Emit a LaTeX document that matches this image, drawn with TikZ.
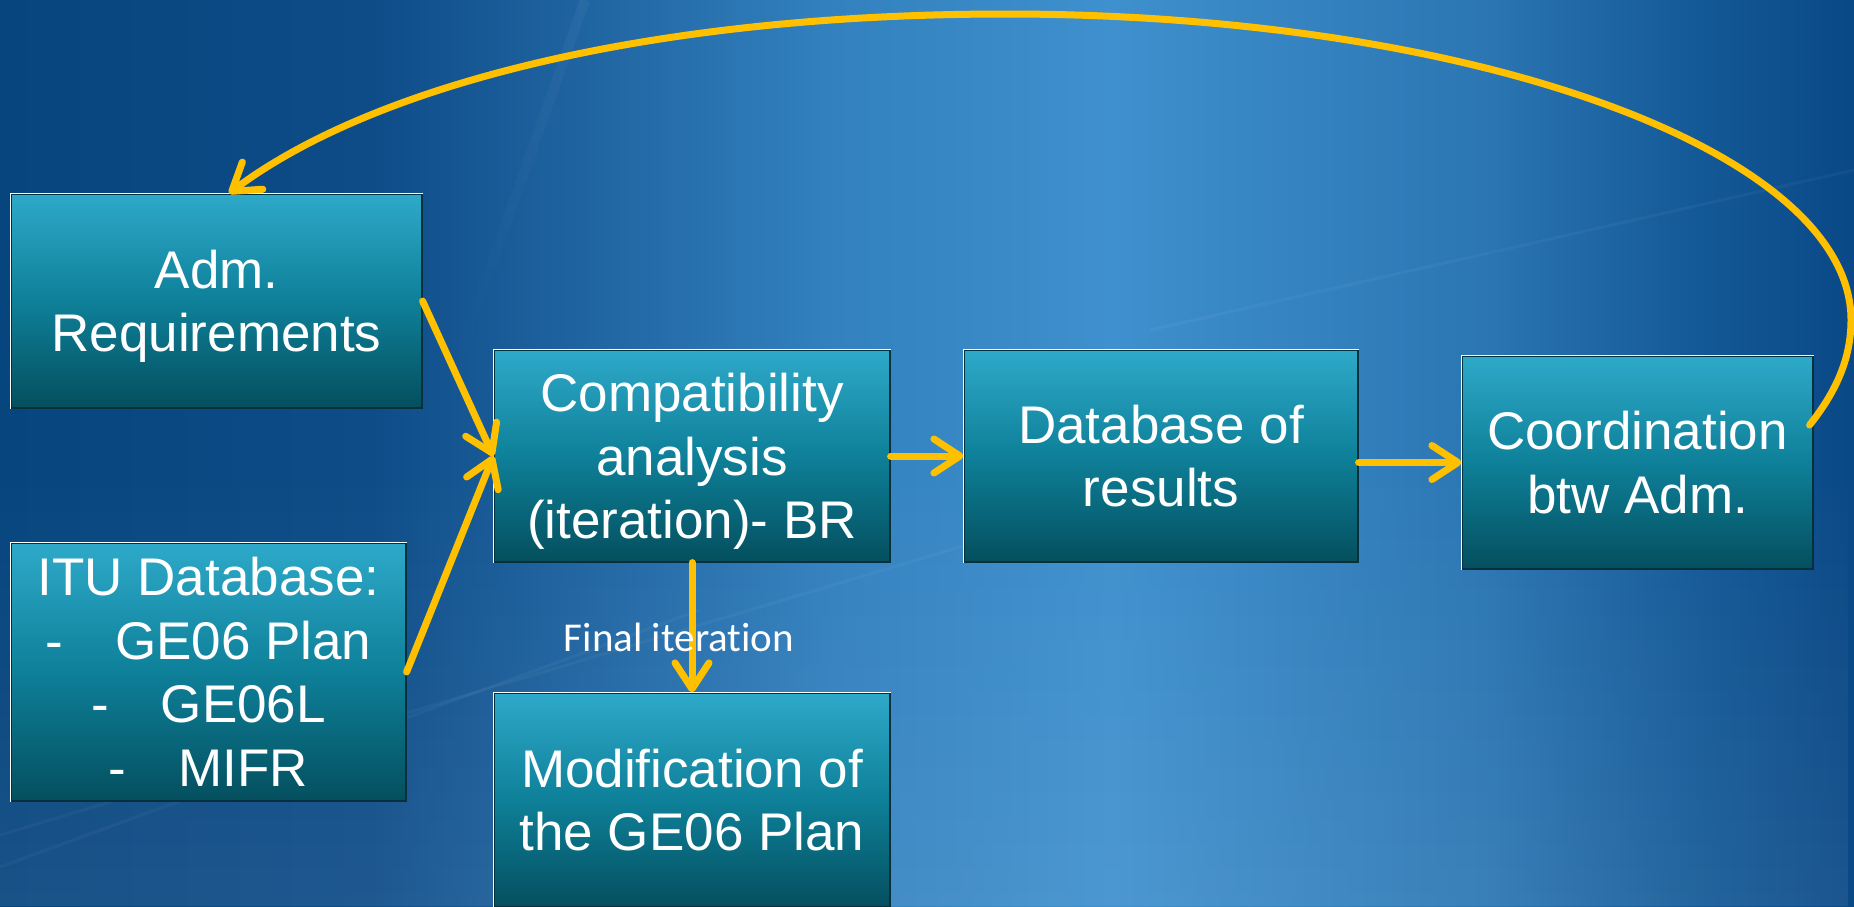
\documentclass[tikz,border=0pt]{standalone}
\usepackage{fontspec}
\setmainfont{Liberation Sans}
\newfontfamily\calib[Ligatures={NoCommon}]{Carlito}
\usetikzlibrary{arrows.meta,fadings}
\definecolor{bgA}{HTML}{07457E}
\definecolor{bgA2}{HTML}{0E4C88}
\definecolor{bgM}{HTML}{3381BF}
\definecolor{bgB}{HTML}{3F90CE}
\definecolor{bgR1}{HTML}{2B76B3}
\definecolor{bgR2}{HTML}{135896}
\definecolor{bgC}{HTML}{0A4886}
\definecolor{boxT}{HTML}{2EA9C9}
\definecolor{boxM}{HTML}{0E8099}
\definecolor{boxB}{HTML}{044F5E}
\definecolor{boxEdge}{HTML}{06313C}
\definecolor{arr}{HTML}{FFC000}
\pgfdeclarehorizontalshading{bgshade}{100bp}{color(0bp)=(bgA); color(25bp)=(bgA); color(35bp)=(bgA2); color(47.5bp)=(bgM); color(55bp)=(bgB); color(65bp)=(bgR1); color(71bp)=(bgR2); color(75bp)=(bgC); color(100bp)=(bgC)}
\tikzset{
  box/.style={draw=boxEdge, line width=1.2pt, top color=boxT, bottom color=boxB, middle color=boxM,
    text=white, font=\fontsize{53}{63.5}\selectfont, align=center, inner sep=0pt, text depth=0pt},
  arrowline/.style={draw=arr, line width=7pt, line cap=round,
    -{Straight Barb[round, length=26pt, width=34pt]}},
  hilite/.style={draw=white, line width=1.5pt},
  streak/.style={draw=white, opacity=0.04, line width=10pt}
}
\begin{document}
\begin{tikzpicture}[x=1pt,y=-1pt]
\useasboundingbox (0,0) rectangle (1854,906);
\shade[shading=bgshade] (0,0) rectangle (1854,906);
\fill[white, opacity=0.07, path fading=north] (0,450) rectangle (1854,906);
\draw[streak, path fading=south] (585,0) -- (440,410);
\draw[streak, line width=3pt] (0,835) -- (1000,535);
\draw[streak, line width=3pt] (0,867) -- (700,610);
\draw[streak, line width=3pt] (1150,330) -- (1854,170);

\node[box, minimum width=411pt, minimum height=214pt] (adm) at (216.5,301) {Adm.\\Requirements};
\node[box, minimum width=395pt, minimum height=258pt] (itu) at (208.5,672) {ITU Database:\\-\hspace{52pt}GE06 Plan\\-\hspace{52pt}GE06L\\-\hspace{52pt}MIFR};
\node[box, minimum width=396pt, minimum height=212pt] (comp) at (692,456) {Compatibility\\analysis\\(iteration)- BR};
\node[box, minimum width=394pt, minimum height=212pt] (db) at (1161,456) {Database of\\results};
\node[box, minimum width=351pt, minimum height=213pt] (coord) at (1637.5,462.5) {Coordination\\btw Adm.};
\node[box, minimum width=396pt, minimum height=214pt] (mod) at (692,800) {Modification of\\the GE06 Plan};

\foreach \n in {adm,itu,comp,db,coord,mod}{
  \draw[hilite] (\n.south west) -- (\n.north west) -- (\n.north east);
}

\draw[arrowline] (adm.east) -- (comp.west);
\draw[arrowline] (itu.east) -- (comp.west);
\draw[arrowline] (comp.east) -- (db.west);
\draw[arrowline] (db.east |- coord.west) -- (coord.west);
\draw[arrowline] (comp.south) -- (mod.north);

\node[text=white, font=\calib\fontsize{41}{48}\selectfont, inner sep=0pt] (lbl) at (679,637) {Final iteration};

\coordinate (r) at (1851,320);
\coordinate (t) at (1006,14);
\draw[arrowline] ([xshift=-4pt,yshift=37.5pt]coord.east) .. controls (1835,393) and (1851,360) .. (r)
  .. controls (1851,151) and (1473,14) .. (t)
  .. controls (650,14) and (373,85) .. ([xshift=12.5pt]adm.north);
\end{tikzpicture}
\end{document}
